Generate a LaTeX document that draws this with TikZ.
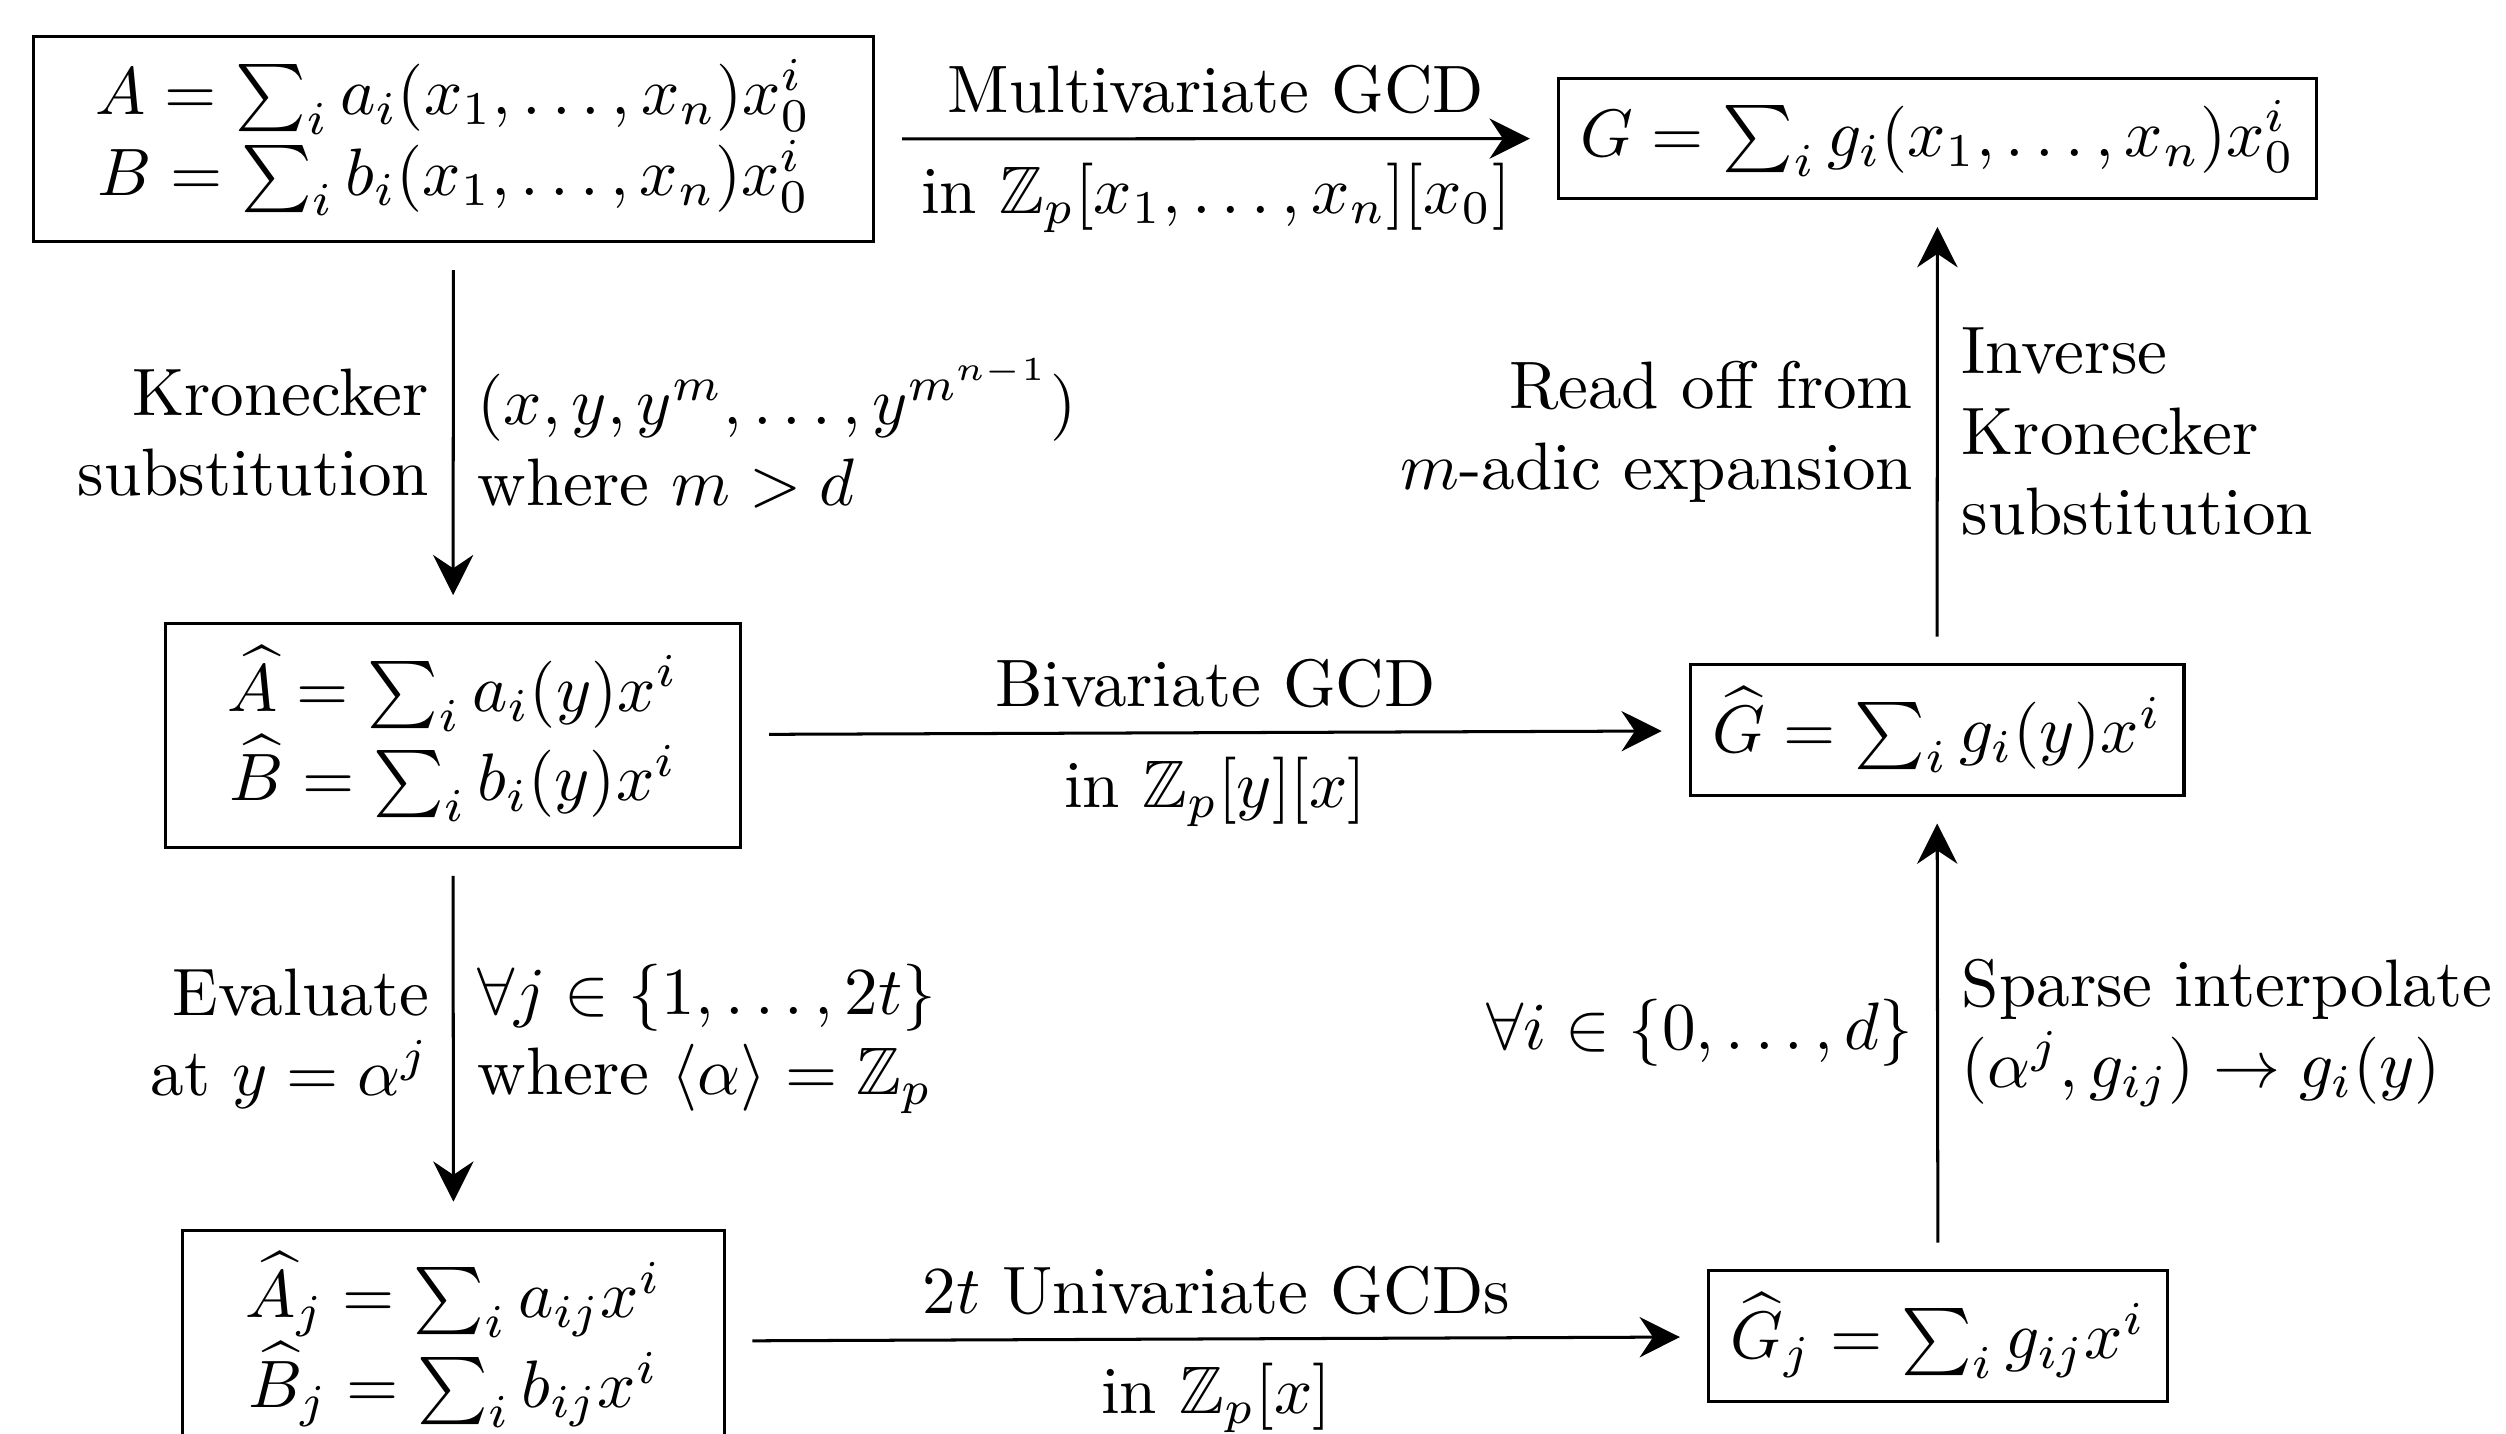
\documentclass[tikz,border=0pt]{standalone}
\usepackage{amsmath,amssymb}
\usetikzlibrary{arrows.meta}
\begin{document}
\begin{tikzpicture}[x=0.149pt,y=-0.149pt,
  box/.style={draw, line width=0.45pt, inner sep=3.33pt, align=center},
  arr/.style={line width=0.45pt, -{Stealth[length=6pt,width=6pt,inset=2pt]}, shorten >=4pt, shorten <=4pt},
  lab/.style={inner sep=3.4pt}]
\clip (0,0) rectangle (2506,1433);
% boxes
\node[box] (A) at (453.5,139) {\begin{tabular}{c}$A = \sum_i a_i(x_1,\dots,x_n)x_0^i$\\ $B = \sum_i b_i(x_1,\dots,x_n)x_0^i$\end{tabular}};
\node[box] (G) at (1937.5,138.5) {$G = \sum_i g_i(x_1,\dots,x_n)x_0^i$};
\node[box] (Ah) at (453,735.5) {\begin{tabular}{c}$\widehat{A} = \sum_i a_i(y)x^i$\\ $\widehat{B} = \sum_i b_i(y)x^i$\end{tabular}};
\node[box] (Gh) at (1937,730) {$\widehat{G} = \sum_i g_i(y)x^i$};
\node[box] (Aj) at (453.5,1342) {\begin{tabular}{c}$\widehat{A}_j = \sum_i a_{ij}x^i$\\ $\widehat{B}_j = \sum_i b_{ij}x^i$\end{tabular}};
\node[box] (Gj) at (1938,1336) {$\widehat{G}_j = \sum_i g_{ij}x^i$};
% arrows
\draw[arr] (A) -- node[lab,above] (l1a) {Multivariate GCD} node[lab,below] (l1b) {in $\mathbb{Z}_p[x_1,\dots,x_n][x_0]$} (G);
\draw[arr] (A) -- node[lab,left,align=right] (l2a) {Kronecker\\substitution} node[lab,right,align=left] (l2b) {$(x, y, y^m, \dots, y^{m^{n-1}})$\\where $m > d$} (Ah);
\draw[arr] (Ah) -- node[lab,above] (l3a) {Bivariate GCD} node[lab,below] (l3b) {in $\mathbb{Z}_p[y][x]$} (Gh);
\draw[arr] (Ah) -- node[lab,left,align=right] (l4a) {Evaluate\\at $y = \alpha^j$} node[lab,right,align=left] (l4b) {$\forall j \in \{1,\dots,2t\}$\\where $\langle\alpha\rangle = \mathbb{Z}_p$} (Aj);
\draw[arr] (Aj) -- node[lab,above] (l5a) {$2t$ Univariate GCDs} node[lab,below] (l5b) {in $\mathbb{Z}_p[x]$} (Gj);
\draw[arr] (Gj) -- node[lab,left,align=right] (l6a) {$\forall i \in \{0,\dots,d\}$} node[lab,right,align=left] (l6b) {Sparse interpolate\\$(\alpha^j, g_{ij}) \to g_i(y)$} (Gh);
\draw[arr] (Gh) -- node[lab,left,align=right] (l7a) {Read off from\\$m$-adic expansion} node[lab,right,align=left] (l7b) {Inverse\\Kronecker\\substitution} (G);
\end{tikzpicture}
\end{document}
